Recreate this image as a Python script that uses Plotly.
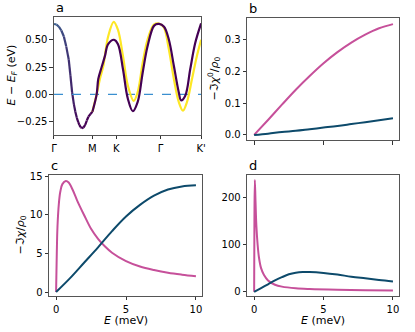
import plotly.graph_objects as go
from plotly.subplots import make_subplots

# ---- panel a: band structure along the k-path ----
k_ticks = [0, 0.261, 0.424, 0.725, 1.0]
k_labels = ["Γ", "M", "K", "Γ", "K'"]

# shared band from Γ to M
gm_k = [0, 0.017, 0.033, 0.050, 0.067, 0.083, 0.100, 0.112, 0.123, 0.135, 0.145,
        0.155, 0.165, 0.172, 0.181, 0.190, 0.200, 0.212, 0.223, 0.234, 0.248, 0.261]
gm_e = [0.645, 0.64, 0.62, 0.585, 0.53, 0.44, 0.32, 0.17, 0.02, -0.09, -0.16,
        -0.215, -0.255, -0.28, -0.30, -0.31, -0.305, -0.28, -0.24, -0.205, -0.18, -0.16]

# lower (purple) band from M onwards
purple_k = [0.261, 0.290, 0.301, 0.324, 0.346, 0.368, 0.408, 0.435, 0.469, 0.502,
            0.536, 0.569, 0.603, 0.636, 0.681, 0.714, 0.748, 0.781, 0.815, 0.848,
            0.864, 0.893, 0.926, 0.960, 1.0]
purple_e = [-0.16, 0.0, 0.14, 0.25, 0.35, 0.46, 0.50, 0.46, 0.23, -0.04,
            -0.155, -0.07, 0.20, 0.44, 0.63, 0.645, 0.62, 0.50, 0.26, 0.02,
            -0.055, -0.01, 0.23, 0.47, 0.65]

# upper (yellow) band from M onwards
yellow_k = [0.261, 0.290, 0.312, 0.335, 0.368, 0.406, 0.435, 0.469, 0.502, 0.542,
            0.569, 0.603, 0.636, 0.681, 0.721, 0.748, 0.781, 0.815, 0.848, 0.877,
            0.904, 0.938, 0.971, 1.0]
yellow_e = [-0.16, 0.0, 0.14, 0.26, 0.53, 0.665, 0.59, 0.35, 0.08, -0.06,
            0.02, 0.29, 0.50, 0.64, 0.645, 0.61, 0.41, 0.14, -0.07, -0.15,
            -0.07, 0.14, 0.35, 0.50]

# ---- panel b: bare susceptibility ----
e_b = [0, 1, 2, 3, 4, 5, 6, 7, 8, 9, 10]
b_pink = [0, 0.047, 0.095, 0.142, 0.185, 0.225, 0.26, 0.29, 0.315, 0.335, 0.348]
b_navy = [0, 0.004, 0.009, 0.013, 0.018, 0.023, 0.028, 0.034, 0.040, 0.046, 0.052]

# ---- panel c: dressed susceptibility ----
e_c_navy = [0, 1, 2, 3, 4, 5, 6, 7, 8, 9, 10]
c_navy = [0, 1.8, 3.8, 5.8, 7.9, 9.8, 11.3, 12.5, 13.3, 13.7, 13.85]
e_c_pink = [0, 0.05, 0.1, 0.2, 0.3, 0.45, 0.7, 0.9, 1.2, 1.5, 2, 2.5, 3, 3.5, 4,
            5, 6, 7, 8, 9, 10]
c_pink = [0, 5, 8.5, 11.5, 13.0, 14.0, 14.4, 14.2, 13.2, 11.9, 10.0, 8.2, 6.9, 5.9,
          5.1, 4.0, 3.3, 2.85, 2.5, 2.25, 2.05]

# ---- panel d ----
e_d_pink = [0, 0.02, 0.05, 0.1, 0.16, 0.25, 0.35, 0.5, 0.7, 1.0, 1.5, 2, 3, 4, 6, 8, 10]
d_pink = [0, 150, 236, 190, 140, 100, 72, 50, 36, 24, 15, 11, 7.5, 6, 4.5, 3.6, 3.0]
e_d_navy = [0, 0.5, 1, 1.5, 2, 2.5, 3, 3.5, 4, 5, 6, 7, 8, 9, 10]
d_navy = [0, 8, 16, 24, 31, 37, 40.5, 42, 42, 40, 36.5, 32, 28.5, 25, 22]

PINK = "#c6509a"
NAVY = "#0d4a6b"
PURPLE = "#440154"
YELLOW = "#fde725"
FONT = "DejaVu Sans"

W, H = 415, 332


def px_x(p):
    return p / W


def px_y(p):
    return 1 - p / H


def mix(c1, c2, f):
    a = [int(c1[i:i + 2], 16) for i in (1, 3, 5)]
    b = [int(c2[i:i + 2], 16) for i in (1, 3, 5)]
    return "#" + "".join("%02x" % round(a[j] + (b[j] - a[j]) * f) for j in range(3))


fig = make_subplots(rows=2, cols=2)

# Γ-M segment, colour fades from blue to purple
n = len(gm_k) - 1
for i in range(n):
    col = mix("#3b5f8e", PURPLE, min(1.0, i / 12))
    fig.add_trace(go.Scatter(x=gm_k[i:i + 2], y=gm_e[i:i + 2], mode="lines",
                             line=dict(color=col, width=2.2), showlegend=False),
                  row=1, col=1)

fig.add_trace(go.Scatter(x=[0, 1], y=[0, 0], mode="lines",
                         line=dict(color="#3a8fd0", width=1.2, dash="dash"),
                         showlegend=False), row=1, col=1)
fig.add_trace(go.Scatter(x=yellow_k, y=yellow_e, mode="lines", line_shape="spline",
                         line=dict(color=YELLOW, width=2.2), showlegend=False),
              row=1, col=1)
fig.add_trace(go.Scatter(x=purple_k, y=purple_e, mode="lines", line_shape="spline",
                         line=dict(color=PURPLE, width=2.2), showlegend=False),
              row=1, col=1)

fig.add_trace(go.Scatter(x=e_b, y=b_pink, mode="lines", line_shape="spline",
                         line=dict(color=PINK, width=2), showlegend=False), row=1, col=2)
fig.add_trace(go.Scatter(x=e_b, y=b_navy, mode="lines", line_shape="spline",
                         line=dict(color=NAVY, width=2), showlegend=False), row=1, col=2)

fig.add_trace(go.Scatter(x=e_c_pink, y=c_pink, mode="lines", line_shape="spline",
                         line=dict(color=PINK, width=2), showlegend=False), row=2, col=1)
fig.add_trace(go.Scatter(x=e_c_navy, y=c_navy, mode="lines", line_shape="spline",
                         line=dict(color=NAVY, width=2), showlegend=False), row=2, col=1)

fig.add_trace(go.Scatter(x=e_d_pink, y=d_pink, mode="lines", line_shape="spline",
                         line=dict(color=PINK, width=2), showlegend=False), row=2, col=2)
fig.add_trace(go.Scatter(x=e_d_navy, y=d_navy, mode="lines", line_shape="spline",
                         line=dict(color=NAVY, width=2), showlegend=False), row=2, col=2)

axis_style = dict(
    showline=True, linecolor="#555555", linewidth=1, mirror=True,
    ticks="outside", ticklen=3.5, tickcolor="#333333", tickwidth=1,
    showgrid=False, zeroline=False,
    tickfont=dict(family=FONT, size=10, color="black"),
)
fig.update_xaxes(**axis_style, ticklabelstandoff=1)
fig.update_yaxes(**axis_style)

# panel a
fig.update_xaxes(domain=[px_x(52), px_x(202)], range=[0, 1],
                 tickvals=k_ticks, ticktext=k_labels, row=1, col=1)
fig.update_yaxes(domain=[px_y(133), px_y(13)], range=[-0.369, 0.711],
                 tickvals=[-0.25, 0, 0.25, 0.5],
                 ticktext=["−0.25", "0.00", "0.25", "0.50"], row=1, col=1)
# panel b
fig.update_xaxes(domain=[px_x(249), px_x(404)], range=[-0.5, 10.45],
                 tickvals=[0, 5, 10], showticklabels=False, row=1, col=2)
fig.update_yaxes(domain=[px_y(139), px_y(14)], range=[-0.0175, 0.368],
                 tickvals=[0, 0.1, 0.2, 0.3],
                 ticktext=["0.0", "0.1", "0.2", "0.3"], row=1, col=2)
# panel c
fig.update_xaxes(domain=[px_x(47), px_x(203)], range=[-0.5, 10.44],
                 tickvals=[0, 5, 10], row=2, col=1)
fig.update_yaxes(domain=[px_y(297), px_y(174)], range=[-0.47, 15.2],
                 tickvals=[0, 5, 10, 15], row=2, col=1)
# panel d
fig.update_xaxes(domain=[px_x(249), px_x(404)], range=[-0.5, 10.45],
                 tickvals=[0, 5, 10], row=2, col=2)
fig.update_yaxes(domain=[px_y(297), px_y(174)], range=[-8, 247],
                 tickvals=[0, 100, 200], row=2, col=2)

annotations = []


def label(text, x, y, size=11, angle=0, xanchor="center", yanchor="middle"):
    annotations.append(dict(text=text, x=px_x(x), y=px_y(y), xref="paper", yref="paper",
                            showarrow=False, textangle=angle, xanchor=xanchor,
                            yanchor=yanchor,
                            font=dict(family=FONT, size=size, color="black")))


label("a", 52, 13, size=13, xanchor="left", yanchor="bottom")
label("b", 249, 14, size=13, xanchor="left", yanchor="bottom")
label("c", 47, 174, size=13, xanchor="left", yanchor="bottom")
label("d", 249, 174, size=13, xanchor="left", yanchor="bottom")

label("<i>E</i> − <i>E</i><sub><i>F</i></sub> (eV)", 9, 72, angle=-90)
label("−ℑ<i>χ</i><sup>0</sup>/<i>ρ</i><sub>0</sub>", 215, 76, angle=-90)
label("−ℑ<i>χ</i>/<i>ρ</i><sub>0</sub>", 18, 235, angle=-90)
label("<i>E</i> (meV)", 125, 322)
label("<i>E</i> (meV)", 326, 322)

fig.update_layout(
    width=W, height=H,
    margin=dict(l=0, r=0, t=0, b=0),
    paper_bgcolor="white", plot_bgcolor="white",
    font=dict(family=FONT, size=10, color="black"),
    annotations=annotations,
    showlegend=False,
)

fig.write_html("out.html", config={"displayModeBar": False},
               post_script="document.body.style.margin='0';"
                           "document.body.style.overflow='hidden';")
